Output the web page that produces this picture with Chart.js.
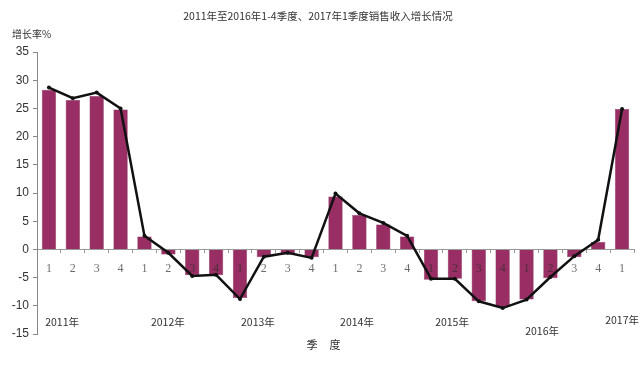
<!DOCTYPE html>
<html>
<head>
<meta charset="utf-8">
<script src="https://cdn.jsdelivr.net/npm/chart.js@4/dist/chart.umd.min.js"></script>
<style>
  html,body{margin:0;padding:0;background:#fff;}
  #wrap{width:644px;height:370px;position:relative;}
</style>
</head>
<body>
<div id="wrap"><canvas id="c" width="644" height="370"></canvas></div>
<script>
const quarterLabels = ['1','2','3','4','1','2','3','4','1','2','3','4','1','2','3','4','1','2','3','4','1','2','3','4','1'];
const yearLabels = ['2011年','2012年','2013年','2014年','2015年','2016年','2017年'];
const barValues = [28.3,26.5,27.2,24.8, 2.3,-0.9,-4.6,-4.6, -8.6,-1.4,-0.9,-1.4, 9.4,6.1,4.4,2.3, -5.4,-5.2,-9.2,-10.2, -8.9,-5.1,-1.4,1.3, 24.9];
const lineValues = [28.7,26.8,27.8,25.0, 2.4,-0.6,-4.7,-4.5, -8.8,-1.3,-0.6,-1.5, 9.9,6.4,4.7,2.4, -5.2,-5.2,-9.2,-10.4, -8.9,-4.9,-1.2,1.7, 24.9];
const yTicks = [35,30,25,20,15,10,5,0,-5,-10,-15];
const titleText = '2011年至2016年1-4季度、2017年1季度销售收入增长情况';
const yTitle = '增长率%';
const xTitle = ['季','度'];

const CJK = '"Noto Sans CJK SC", "Liberation Sans", sans-serif';

const textPlugin = {
  id: 'texts',
  afterDraw(chart) {
    const ctx = chart.ctx;
    const xs = chart.scales.x;
    ctx.save();
    ctx.fillStyle = '#333';
    ctx.textBaseline = 'middle';
    ctx.textAlign = 'center';
    ctx.font = '10.5px ' + CJK;
    ctx.fillText(titleText, 318, 16);
    ctx.textAlign = 'left';
    ctx.font = '10px ' + CJK;
    ctx.fillText(yTitle, 12, 34);
    const yearIdx = [0.55, 4.98, 8.75, 12.9, 16.88, 20.65, 24];
    const yearY = [322, 322, 322, 322, 322, 331, 320];
    ctx.textAlign = 'center';
    ctx.font = '10.5px ' + CJK;
    yearLabels.forEach((t, i) => {
      ctx.fillText(t, xs.getPixelForValue(yearIdx[i]), yearY[i]);
    });
    ctx.font = '11px ' + CJK;
    ctx.fillText(xTitle[0], 312, 345);
    ctx.fillText(xTitle[1], 335, 345);
    ctx.restore();
  }
};

new Chart(document.getElementById('c'), {
  data: {
    labels: quarterLabels,
    datasets: [
      {
        type: 'line',
        data: lineValues,
        borderColor: '#111',
        backgroundColor: '#111',
        borderWidth: 2.5,
        pointRadius: 2,
        pointBackgroundColor: '#111',
        pointBorderWidth: 0,
        tension: 0,
        order: 0
      },
      {
        type: 'bar',
        data: barValues,
        backgroundColor: '#982e64',
        borderColor: '#7a2350',
        borderWidth: 0.5,
        categoryPercentage: 1,
        barPercentage: 0.6,
        order: 1
      }
    ]
  },
  options: {
    responsive: false,
    animation: false,
    devicePixelRatio: 1,
    layout: { padding: { top: 52, bottom: 36, right: 10, left: 0 } },
    plugins: { legend: { display: false }, tooltip: { enabled: false }, title: { display: false } },
    scales: {
      x: {
        type: 'category',
        position: { y: 0 },
        offset: true,
        grid: { display: true, drawOnChartArea: false, offset: true, tickLength: 3, color: '#999' },
        border: { display: true, color: '#999', width: 1 },
        ticks: {
          z: 1,
          color: 'rgba(45,45,45,0.7)',
          font: { family: '"Liberation Serif", "DejaVu Serif", serif', size: 12 },
          padding: 9,
          maxRotation: 0,
          autoSkip: false
        }
      },
      y: {
        min: -15,
        max: 35,
        afterFit(scale) { scale.width = 37; },
        afterBuildTicks(scale) { scale.ticks = yTicks.map(v => ({ value: v })); },
        grid: { display: true, drawOnChartArea: false, tickLength: 4, color: '#888' },
        border: { display: true, color: '#888', width: 1 },
        ticks: {
          color: '#333',
          font: { family: '"Liberation Sans", Arial, sans-serif', size: 12 },
          padding: 4
        }
      }
    }
  },
  plugins: [textPlugin]
});
</script>
</body>
</html>
